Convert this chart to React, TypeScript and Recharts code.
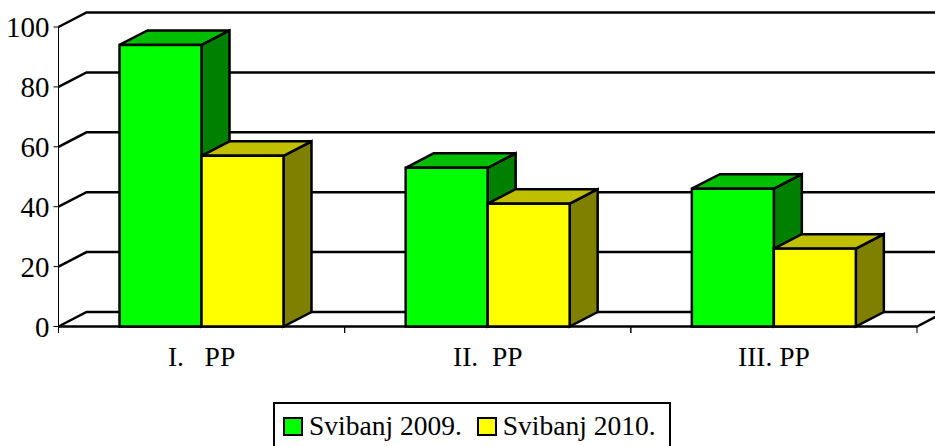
import React from "react"
import { BarChart, Bar, XAxis, YAxis, CartesianGrid } from "recharts"

const categories = ["I.\u00a0\u00a0\u00a0PP", "II.\u00a0\u00a0PP", "III.\u00a0PP"]
const svibanj2009 = [94, 53, 46]
const svibanj2010 = [57, 41, 26]
const yTicks = [0, 20, 40, 60, 80, 100]

const data = categories.map((name, i) => ({
  name,
  svibanj2009: svibanj2009[i],
  svibanj2010: svibanj2010[i],
}))

const FONT = "'Liberation Serif', 'Times New Roman', serif"
const DX = 28
const DY = 14.5
const CATEGORY_WIDTH = 858.5 / categories.length

// 3D box: front face plus top and side faces
function Box3D(props: any) {
  const { x, y, width, height, fill, topFill, sideFill } = props
  const r = x + width
  const b = y + height
  return (
    <g stroke="#000" strokeWidth={2.5}>
      <polygon points={`${r},${y} ${r + DX},${y - DY} ${r + DX},${b - DY} ${r},${b}`} fill={sideFill} />
      <polygon points={`${x},${y} ${x + DX},${y - DY} ${r + DX},${y - DY} ${r},${y}`} fill={topFill} />
      <rect x={x} y={y} width={width} height={height} fill={fill} />
    </g>
  )
}

// one grid line: slants from the axis up to the back wall, then runs across
function SlantedLine(props: any) {
  const { x1, x2, y1 } = props
  const isFloor = y1 > 320
  return (
    <g key={y1} stroke="#000" strokeWidth={2.5} fill="none">
      <polyline points={`${x1},${y1} ${x1 + DX},${y1 - DY} ${x2 + DX},${y1 - DY}`} />
      {isFloor && <polyline points={`${x1},${y1} ${x2},${y1} ${x2 + DX},${y1 - DY}`} />}
    </g>
  )
}

// category label, with the tick marks on the category edges rather than at its centre
function CategoryTick(props: any) {
  const { x, y, payload } = props
  const left = x - CATEGORY_WIDTH / 2
  const right = x + CATEGORY_WIDTH / 2
  return (
    <g>
      <line x1={left} y1={326.5} x2={left} y2={333} stroke="#000" strokeWidth={1} />
      <line x1={right} y1={326.5} x2={right} y2={333} stroke="#000" strokeWidth={1} />
      <text x={x} y={y + 31} textAnchor="middle" fontSize={27.5} fontFamily={FONT} fill="#000">
        {payload.value}
      </text>
    </g>
  )
}

function Swatch({ color }: { color: string }) {
  return (
    <span
      style={{
        width: 20,
        height: 19,
        boxSizing: "border-box",
        background: color,
        border: "2px solid #000",
        marginRight: 6,
        flex: "none",
      }}
    />
  )
}

function LegendBox() {
  return (
    <div
      style={{
        position: "absolute",
        left: 273,
        top: 402,
        width: 398,
        height: 50,
        border: "2.5px solid #000",
        boxSizing: "border-box",
        fontFamily: FONT,
        fontSize: 27.5,
        color: "#000",
        paddingLeft: 8,
        paddingTop: 6,
        lineHeight: "32px",
        display: "flex",
        alignItems: "flex-start",
        whiteSpace: "pre",
      }}
    >
      <span style={{ display: "flex", alignItems: "center", marginRight: 15 }}>
        <Swatch color="#00ff00" />
        Svibanj 2009.
      </span>
      <span style={{ display: "flex", alignItems: "center" }}>
        <Swatch color="#ffff00" />
        Svibanj 2010.
      </span>
    </div>
  )
}

export default function App() {
  return (
    <div style={{ position: "absolute", left: 0, top: 0, width: 935, height: 446, overflow: "hidden", background: "#fff" }}>
      <BarChart
        width={935}
        height={446}
        data={data}
        barSize={82}
        barGap={0}
        margin={{ top: 27, right: 18, bottom: 0, left: 0 }}
        style={{ overflow: "hidden" }}
      >
        <CartesianGrid vertical={false} horizontal={(p: any) => <SlantedLine key={p.y1} {...p} />} />
        <XAxis dataKey="name" axisLine={false} tickLine={false} tick={<CategoryTick />} interval={0} height={119.5} />
        <YAxis
          width={58.5}
          domain={[0, 100]}
          ticks={yTicks}
          interval={0}
          axisLine={{ stroke: "#000", strokeWidth: 1 }}
          tick={{ fontSize: 29, fill: "#000", fontFamily: FONT }}
          tickLine={{ stroke: "#000", strokeWidth: 1 }}
          tickSize={5}
          tickMargin={4}
        />
        <Bar
          dataKey="svibanj2009"
          isAnimationActive={false}
          fill="#00ff00"
          shape={(p: any) => <Box3D {...p} fill="#00ff00" topFill="#00bf00" sideFill="#008000" />}
        />
        <Bar
          dataKey="svibanj2010"
          isAnimationActive={false}
          fill="#ffff00"
          shape={(p: any) => <Box3D {...p} fill="#ffff00" topFill="#bfbf00" sideFill="#808000" />}
        />
      </BarChart>
      <LegendBox />
    </div>
  )
}
